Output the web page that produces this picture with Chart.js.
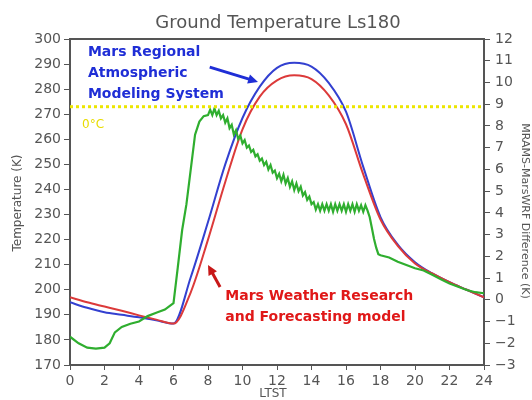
<!DOCTYPE html>
<html>
<head>
<meta charset="utf-8">
<script src="https://cdn.jsdelivr.net/npm/chart.js@4.4.1/dist/chart.umd.min.js"></script>
<style>
  html, body { margin: 0; padding: 0; background: #fff; }
  #wrap { width: 532px; height: 400px; }
</style>
</head>
<body>
<div id="wrap"><canvas id="grafico"></canvas></div>
<script>
// ---- data ----
const hours = [0, 1, 2, 3, 4, 5, 6, 7, 8, 9, 10, 11, 12, 13, 14, 15, 16, 17, 18, 19, 20, 21, 22, 23, 24];
const ramsTemp = [195, 192.8, 191, 190, 189, 187.8, 186.5, 205, 227, 250, 268.5, 281, 288.5, 290.5, 289, 282.5, 271, 249, 229, 218, 211, 206.5, 203, 200, 197];
const wrfTemp = [197, 195, 193.3, 191.6, 189.8, 188.1, 186.5, 199, 220, 243, 264, 277, 283.5, 285.5, 284, 277.5, 266, 246, 228, 217.5, 210.5, 206.5, 203, 200, 197];

// green difference curve (right axis)
const diffHours = [0, 0.5, 1, 1.5, 2, 2.3, 2.6, 3, 3.5, 4, 4.5, 5, 5.5, 6,
  6.25, 6.5, 6.75, 7, 7.25, 7.5, 7.75,
  8, 8.125, 8.25, 8.375, 8.5, 8.625, 8.75, 8.875,
  9, 9.125, 9.25, 9.375, 9.5, 9.625, 9.75, 9.875,
  10, 10.125, 10.25, 10.375, 10.5, 10.625, 10.75, 10.875,
  11, 11.125, 11.25, 11.375, 11.5, 11.625, 11.75, 11.875,
  12, 12.125, 12.25, 12.375, 12.5, 12.625, 12.75, 12.875,
  13, 13.125, 13.25, 13.375, 13.5, 13.625, 13.75, 13.875,
  14, 14.125, 14.25, 14.375, 14.5, 14.625, 14.75, 14.875,
  15, 15.125, 15.25, 15.375, 15.5, 15.625, 15.75, 15.875,
  16, 16.125, 16.25, 16.375, 16.5, 16.625, 16.75, 16.875,
  17, 17.125, 17.25, 17.375, 17.5, 17.625, 17.75, 17.875,
  18, 18.5, 19, 19.5, 20, 20.5, 21, 21.5, 22, 22.5, 23, 23.5, 24];
const diffK = [-1.7, -2.0, -2.2, -2.25, -2.2, -2.0, -1.5, -1.25, -1.1, -1.0, -0.75, -0.6, -0.45, -0.15,
  1.5, 3.2, 4.4, 6.0, 7.6, 8.2, 8.45,
  8.5, 8.75, 8.5, 8.8, 8.5, 8.7, 8.35, 8.5,
  8.15, 8.35, 7.9, 8.05, 7.6, 7.8, 7.4, 7.55,
  7.2, 7.35, 7.0, 7.1, 6.8, 6.9, 6.6, 6.7,
  6.4, 6.5, 6.2, 6.35, 6.0, 6.2, 5.85, 5.95,
  5.6, 5.8, 5.45, 5.75, 5.35, 5.6, 5.2, 5.45,
  5.05, 5.35, 5.0, 5.2, 4.8, 4.95, 4.6, 4.75,
  4.4, 4.5, 4.15, 4.4, 4.1, 4.4, 4.1, 4.4,
  4.1, 4.4, 4.05, 4.4, 4.1, 4.4, 4.1, 4.4,
  4.05, 4.4, 4.1, 4.4, 4.05, 4.4, 4.1, 4.35,
  4.05, 4.35, 4.1, 3.8, 3.3, 2.8, 2.4, 2.1,
  2.05, 1.95, 1.75, 1.6, 1.45, 1.35, 1.15, 0.95, 0.75, 0.6, 0.45, 0.35, 0.3];

const freezingK = 273;
const xTicks = [0, 24, 2];
const yTicks = [170, 300, 10];
const y2Ticks = [-3, 12, 1];

const toXY = (xs, ys) => xs.map((x, i) => ({ x: x, y: ys[i] }));

const axisGray = "#555";
const tickFont = { family: "DejaVu Sans", size: 14 };

// ---- text + arrows on top ----
const extras = {
    id: "extras",
    afterDatasetsDraw(chart) {
        const c = chart.ctx;
        const sx = chart.scales.x, sy = chart.scales.y;
        const px = h => sx.getPixelForValue(h);
        const py = t => sy.getPixelForValue(t);
        const a = chart.chartArea;

        c.save();
        // top frame line
        c.strokeStyle = axisGray;
        c.lineWidth = 2;
        c.beginPath();
        c.moveTo(a.left - 1, a.top);
        c.lineTo(a.right + 1, a.top);
        c.stroke();

        // title
        c.fillStyle = "#555";
        c.font = "18px 'DejaVu Sans'";
        c.textAlign = "center";
        c.textBaseline = "middle";
        c.fillText("Ground Temperature Ls180", 278, 23);

        // axis titles
        c.font = "12px 'DejaVu Sans'";
        c.save();
        c.translate(18, 203);
        c.rotate(-Math.PI / 2);
        c.fillText("Temperature (K)", 0, 0);
        c.restore();
        c.save();
        c.translate(525, 211);
        c.rotate(Math.PI / 2);
        c.font = "11px 'DejaVu Sans'";
        c.fillText("MRAMS-MarsWRF Difference (K)", 0, 0);
        c.restore();
        c.fillText("LTST", 273, 394);

        // 0°C label
        c.textAlign = "left";
        c.fillStyle = "#e8dc00";
        c.font = "12px 'DejaVu Sans'";
        c.fillText("0°C", px(0.7), py(265.7));

        // RAMS label
        c.fillStyle = "#1f2ed6";
        c.font = "bold 14px 'DejaVu Sans'";
        c.fillText("Mars Regional", px(1.04), py(294.6));
        c.fillText("Atmospheric", px(1.04), py(286.4));
        c.fillText("Modeling System", px(1.04), py(277.8));

        // WRF label
        c.fillStyle = "#e01818";
        c.fillText("Mars Weather Research", px(9.0), py(197.3));
        c.fillText("and Forecasting model", px(9.0), py(189.0));

        // arrows
        const arrow = (x0, y0, x1, y1, col) => {
            const ang = Math.atan2(y1 - y0, x1 - x0);
            c.strokeStyle = col;
            c.fillStyle = col;
            c.lineWidth = 3;
            c.beginPath();
            c.moveTo(x0, y0);
            c.lineTo(x1 - 6 * Math.cos(ang), y1 - 6 * Math.sin(ang));
            c.stroke();
            c.beginPath();
            c.moveTo(x1, y1);
            c.lineTo(x1 - 11 * Math.cos(ang - 0.45), y1 - 11 * Math.sin(ang - 0.45));
            c.lineTo(x1 - 11 * Math.cos(ang + 0.45), y1 - 11 * Math.sin(ang + 0.45));
            c.closePath();
            c.fill();
        };
        arrow(px(8.1), py(288.8), px(10.9), py(282.9), "#1f2ed6");
        arrow(px(8.7), py(201.1), px(8.0), py(209.9), "#c81818");
        c.restore();
    }
};

new Chart(document.getElementById("grafico"), {
    type: "line",
    data: {
        datasets: [
            {
                label: "0 C",
                data: [{ x: 0, y: freezingK }, { x: 24, y: freezingK }],
                borderColor: "#ece600",
                borderWidth: 3,
                borderDash: [3, 3],
                pointRadius: 0,
                yAxisID: "y"
            },
            {
                label: "MRAMS - MarsWRF",
                data: toXY(diffHours, diffK),
                borderColor: "#2fae2f",
                borderWidth: 2.2,
                pointRadius: 0,
                tension: 0,
                yAxisID: "y2"
            },
            {
                label: "MarsWRF",
                data: toXY(hours, wrfTemp),
                borderColor: "#dc3a3a",
                borderWidth: 2,
                pointRadius: 0,
                cubicInterpolationMode: "monotone",
                yAxisID: "y"
            },
            {
                label: "MRAMS",
                data: toXY(hours, ramsTemp),
                borderColor: "#3340d0",
                borderWidth: 2,
                pointRadius: 0,
                cubicInterpolationMode: "monotone",
                yAxisID: "y"
            }
        ]
    },
    options: {
        responsive: true,
        maintainAspectRatio: false,
        animation: false,
        layout: { padding: { top: 39, left: 0, right: 0, bottom: 0 } },
        plugins: {
            legend: { display: false },
            tooltip: { enabled: false }
        },
        scales: {
            x: {
                type: "linear",
                min: xTicks[0],
                max: xTicks[1],
                afterFit: s => { s.height = 35; },
                ticks: { stepSize: xTicks[2], color: axisGray, font: tickFont, padding: 3, maxRotation: 0 },
                grid: { drawOnChartArea: false, tickLength: 5, color: axisGray },
                border: { color: axisGray, width: 2 }
            },
            y: {
                position: "left",
                min: yTicks[0],
                max: yTicks[1],
                afterFit: s => { s.width = 70; },
                ticks: { stepSize: yTicks[2], color: axisGray, font: tickFont, padding: 3 },
                grid: { drawOnChartArea: false, tickLength: 6, color: axisGray },
                border: { color: axisGray, width: 2 }
            },
            y2: {
                position: "right",
                min: y2Ticks[0],
                max: y2Ticks[1],
                afterFit: s => { s.width = 48; },
                ticks: {
                    stepSize: y2Ticks[2], color: axisGray, font: tickFont, padding: 5,
                    callback: v => String(v).replace("-", "\u2212")
                },
                grid: { drawOnChartArea: false, tickLength: 6, color: axisGray },
                border: { color: axisGray, width: 2 }
            }
        }
    },
    plugins: [extras]
});
</script>
</body>
</html>
